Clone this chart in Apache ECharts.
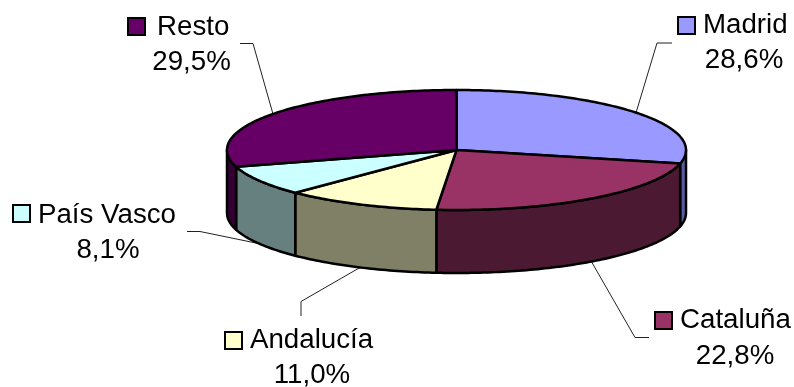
<!DOCTYPE html>
<html>
<head>
<meta charset="utf-8">
<script src="https://cdn.jsdelivr.net/npm/echarts@6/dist/echarts.min.js"></script>
<style>html,body{margin:0;padding:0;background:#fff}#chart{width:794px;height:387px}</style>
</head>
<body>
<div id="chart"></div>
<script>
// Regional shares, clockwise from twelve o'clock
const categories = ['Madrid', 'Cataluña', 'Andalucía', 'País Vasco', 'Resto'];
const shares = [28.6, 22.8, 11.0, 8.1, 29.5];
const topColors = ['#9999FF', '#993366', '#FFFFCC', '#CCFFFF', '#660066'];
const sideColors = ['#5A5CA0', '#4C1933', '#808066', '#668080', '#330033'];

// Disc geometry
const disc = { cx: 456.5, cy: 150, rx: 229.5, ry: 60, depth: 63 };

// Key square corner, name start and baseline, value centre and baseline, leader elbow points
const labelLayout = [
  { key: [677, 16], name: [703, 33], value: [744, 68], elbow: [[672, 43], [657, 43]], front: false },
  { key: [654, 311], name: [680, 328], value: [735, 364], elbow: [[649, 337.5], [635, 337.5]], front: true },
  { key: [224, 331], name: [250, 348], value: [312, 383], elbow: [[301, 316], [301, 301.5]], front: true },
  { key: [12, 204], name: [38, 223], value: [108, 258], elbow: [[187, 231.5], [200, 231.5]], front: true },
  { key: [127, 17], name: [157, 35], value: [191.5, 70], elbow: [[240, 43.5], [253, 43.5]], front: false }
];

const FONT_SIZE = 27.7;
const FONT = FONT_SIZE + 'px "Liberation Sans", Arial, sans-serif';
// Offset from the wanted baseline to the y given to a middle-aligned text line
const BASELINE_SHIFT = FONT_SIZE * 0.3465 - 1.8;
const EDGE_WIDTH = 2.5;
const total = shares.reduce((a, b) => a + b, 0);

function rimPoint(turn, drop) {
  const t = turn * 2 * Math.PI;
  return [disc.cx + disc.rx * Math.sin(t), disc.cy - disc.ry * Math.cos(t) + (drop || 0)];
}

function arcPoints(from, to, drop) {
  const pts = [];
  const steps = Math.max(2, Math.ceil((to - from) * 360));
  for (let i = 0; i <= steps; i++) pts.push(rimPoint(from + (to - from) * i / steps, drop));
  return pts;
}

function renderSlice(params, api) {
  const i = params.dataIndex;
  let before = 0;
  for (let k = 0; k < i; k++) before += shares[k];
  const from = before / total;
  const to = from + api.value(0) / total;
  const children = [];

  // Outer wall: only the part on the near half of the rim is visible
  const a = Math.max(from, 0.25), b = Math.min(to, 0.75);
  if (b > a) {
    children.push({
      type: 'polygon', z2: 1,
      shape: { points: arcPoints(a, b, 0).concat(arcPoints(a, b, disc.depth).reverse()) },
      style: { fill: sideColors[i], stroke: '#000', lineWidth: EDGE_WIDTH, lineJoin: 'round' }
    });
  }

  // Top face
  children.push({
    type: 'polygon', z2: 2,
    shape: { points: [[disc.cx, disc.cy]].concat(arcPoints(from, to, 0)) },
    style: { fill: topColors[i], stroke: '#000', lineWidth: EDGE_WIDTH, lineJoin: 'round' }
  });

  // Leader from the middle of the slice's rim to its label
  const l = labelLayout[i];
  const mid = (from + to) / 2;
  children.push({
    type: 'polyline', z2: 0,
    shape: { points: l.elbow.concat([rimPoint(mid, l.front ? disc.depth : 0)]) },
    style: { fill: 'none', stroke: '#222', lineWidth: 1 }
  });

  // Key square, name and value
  children.push({
    type: 'rect', z2: 3,
    shape: { x: l.key[0] + 1, y: l.key[1] + 1, width: 17, height: 17 },
    style: { fill: topColors[i], stroke: '#000', lineWidth: 2 }
  });
  children.push({
    type: 'text', z2: 3,
    style: { x: l.name[0], y: l.name[1] - BASELINE_SHIFT, text: categories[i], font: FONT, fill: '#000', align: 'left', verticalAlign: 'middle' }
  });
  children.push({
    type: 'text', z2: 3,
    style: { x: l.value[0], y: l.value[1] - BASELINE_SHIFT, text: api.value(0).toFixed(1).replace('.', ',') + '%', font: FONT, fill: '#000', align: 'center', verticalAlign: 'middle' }
  });

  return { type: 'group', children };
}

const chart = echarts.init(document.getElementById('chart'), null, { renderer: 'canvas' });
chart.setOption({
  animation: false,
  backgroundColor: '#fff',
  series: [{
    type: 'custom',
    coordinateSystem: 'none',
    renderItem: renderSlice,
    data: shares.map(v => [v])
  }]
});
</script>
</body>
</html>
